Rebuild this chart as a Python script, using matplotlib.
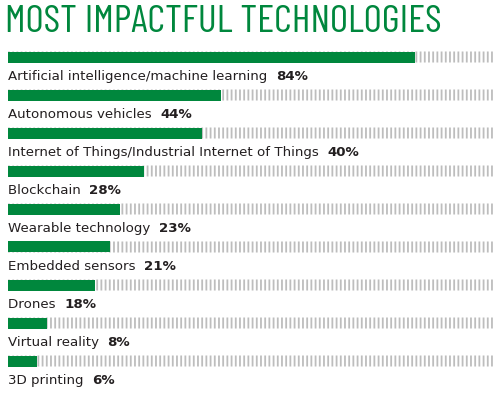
import numpy as np
import matplotlib.pyplot as plt

labels = ['Artificial intelligence/machine learning', 'Autonomous vehicles',
          'Internet of Things/Industrial Internet of Things', 'Blockchain',
          'Wearable technology', 'Embedded sensors', 'Drones',
          'Virtual reality', '3D printing']
values = [84, 44, 40, 28, 23, 21, 18, 8, 6]
title = 'MOST IMPACTFUL TECHNOLOGIES'

green = '#00873d'
grey = '#bdbdbd'
text_col = '#231f20'

fig = plt.figure(figsize=(5.0, 3.96), dpi=100)
ax = fig.add_axes([0, 0, 1, 1])
px = 4.85  # pixels per percent
ax.set_xlim(-8 / px, 100 + 7 / px)
ax.set_ylim((396 - 57) / 38, -57 / 38)
ax.axis('off')

bh = 11 / 38
stripes = np.arange(0.2, 100, 4.2 / px)
for i, (lab, v) in enumerate(zip(labels, values)):
    ax.bar(stripes, bh, width=1.8 / px, bottom=i - bh / 2, color=grey,
           linewidth=0, snap=False)
    ax.barh(i, v, height=bh, left=0, color=green, linewidth=0)
    t = ax.text(0, i + 0.52, lab + '  ', fontsize=9.6, color=text_col,
                va='center', ha='left', family='DejaVu Sans')
    fig.canvas.draw()
    bb = t.get_window_extent()
    xe = ax.transData.inverted().transform((bb.x1, 0))[0]
    ax.text(xe, i + 0.52, f'{v}%', fontsize=9.6, color=text_col,
            va='center', ha='left', fontweight='bold', family='DejaVu Sans')

fig.text(5 / 500, 1 - 5 / 396, title, color=green, fontsize=28.5,
         family=['Barlow Condensed', 'Roboto Condensed', 'DejaVu Sans'],
         va='top', ha='left')

fig.savefig('out.png', dpi=100)
